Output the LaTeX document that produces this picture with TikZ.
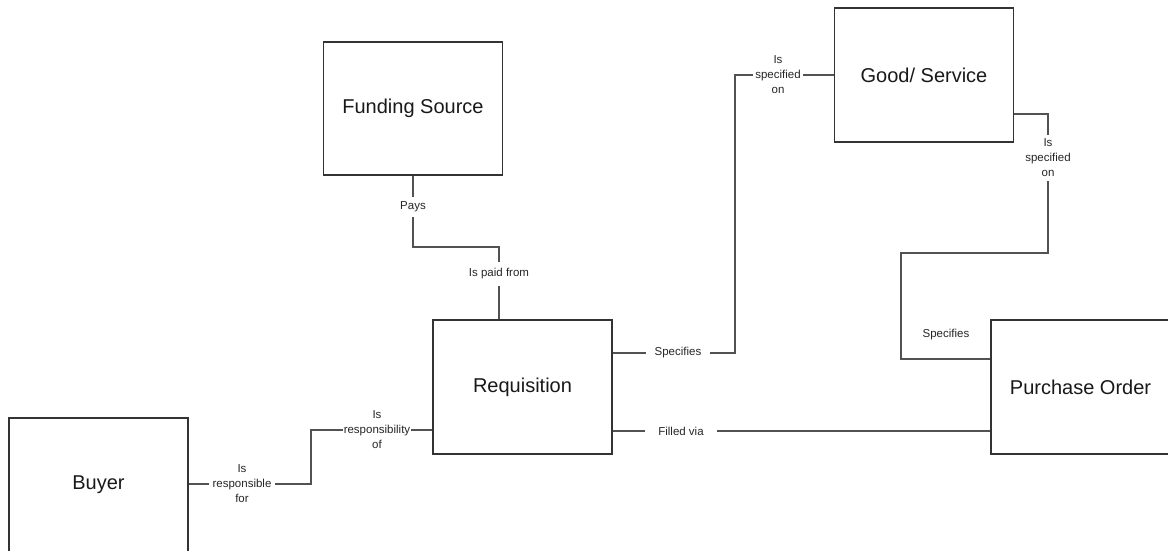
\documentclass[tikz,border=0pt]{standalone}
\usepackage{fontspec}
\setmainfont{Liberation Sans}
\begin{document}
\begin{tikzpicture}[x=1pt,y=-1pt,
  entity/.style={draw=black!80,line width=1.6pt,fill=white,minimum width=179pt,minimum height=134pt,
    inner sep=0pt,font=\fontsize{20}{24}\selectfont,text=black!90},
  conn/.style={draw=black!68,line width=1.5pt},
  lbl/.style={fill=white,align=center,inner xsep=3pt,inner ysep=1pt,
    font=\fontsize{11.5}{15}\selectfont,text=black!85}]
\useasboundingbox (0,0) rectangle (1168,550);
\clip (0,0) rectangle (1168,550);
\fill[white] (0,0) rectangle (1168,550);

% entities
\node[entity] (Buyer) at (98.5,485) {Buyer};
\node[entity,minimum height=133pt] (Fund) at (413,108.5) {Funding Source};
\node[entity] (Req) at (522.5,387) {Requisition};
\node[entity] (Good) at (924,75) {Good/ Service};
\node[entity] (PO) at (1080.5,387) {Purchase Order};

% coordinates for bends
\coordinate (bb1) at (311,484);
\coordinate (bb2) at (311,430);
\coordinate (fr1) at (413,247);
\coordinate (fr2) at (499,247);
\coordinate (rg1) at (735,353);
\coordinate (rg2) at (735,75);
\coordinate (gp1) at (1048,114);
\coordinate (gp2) at (1048,253);
\coordinate (gp3) at (901,253);
\coordinate (gp4) at (901,359);
\coordinate (rp1) at (700,431);

% connectors
\draw[conn] (Buyer.east |- bb1) -- (bb1) -- (bb2) -- (Req.west |- bb2);
\draw[conn] (Fund.south) -- (fr1) -- (fr2) -- (Req.north -| fr2);
\draw[conn] (Req.east |- rg1) -- (rg1) -- (rg2) -- (Good.west |- rg2);
\draw[conn] (Good.east |- gp1) -- (gp1) -- (gp2) -- (gp3) -- (gp4) -- (PO.west |- gp4);
\draw[conn] (Req.east |- rp1) -- (PO.west |- rp1);

% labels
\node[lbl,inner xsep=4pt] (l1) at (242,484) {Is\\responsible\\for};
\node[lbl,inner xsep=1pt] (l2) at (377,430) {Is\\responsibility\\of};
\node[lbl,inner ysep=5pt] (l3) at (413,207) {Pays};
\node[lbl,inner ysep=7pt] (l4) at (499,274) {Is paid from};
\node[lbl,inner xsep=9pt] (l5) at (678,353) {Specifies};
\node[lbl,inner xsep=2pt] (l6) at (778,75) {Is\\specified\\on};
\node[lbl,inner ysep=4pt] (l7) at (1048,158) {Is\\specified\\on};
\node[lbl,fill=none] (l8) at (946,335) {Specifies};
\node[lbl,inner xsep=13pt] (l9) at (681,431) {Filled via};
\end{tikzpicture}
\end{document}
